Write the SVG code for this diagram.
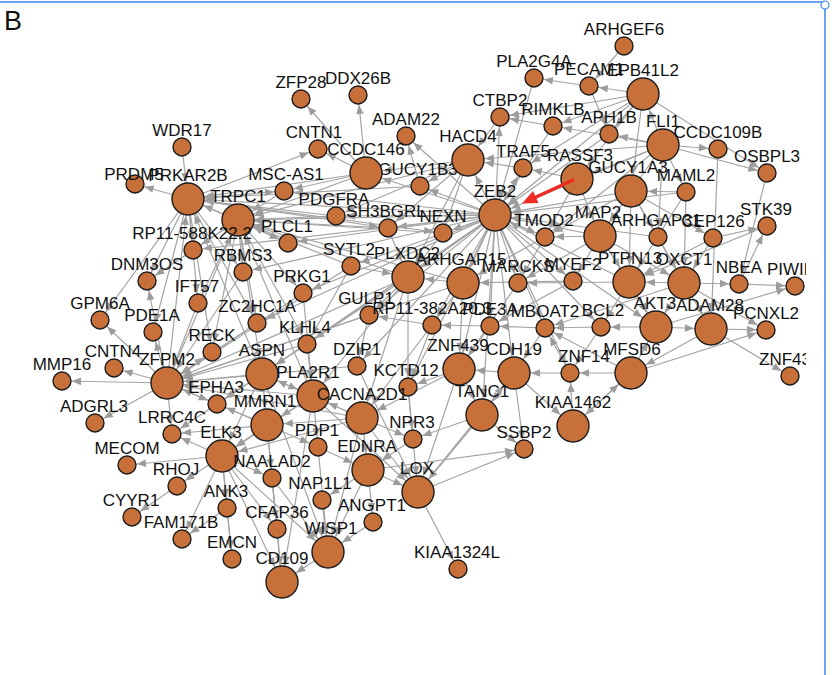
<svg xmlns="http://www.w3.org/2000/svg" width="837" height="675" viewBox="0 0 837 675">
<style>
.e line{stroke:#a4a4a4;stroke-width:1.2;fill:none}
.e .s{marker-end:url(#ms)}
.e .l{marker-end:url(#ml)}
.n circle{fill:#c8703a;stroke:#1c1c1c;stroke-width:1.4}
.n text{font-family:"Liberation Sans",Arial,Helvetica,sans-serif;font-size:17px;fill:#111;text-anchor:middle}
</style>
<defs>
<marker id="ms" markerUnits="userSpaceOnUse" markerWidth="40" markerHeight="12" refX="19" refY="6" orient="auto" overflow="visible"><path d="M0,2.2 L9,6 L0,9.8z" fill="#9c9c9c"/></marker>
<marker id="ml" markerUnits="userSpaceOnUse" markerWidth="40" markerHeight="12" refX="26" refY="6" orient="auto" overflow="visible"><path d="M0,2.2 L9,6 L0,9.8z" fill="#9c9c9c"/></marker>
<clipPath id="clip"><rect x="0" y="0" width="806" height="675"/></clipPath>
</defs>
<rect width="837" height="675" fill="#fff"/>
<line x1="0" y1="2" x2="825" y2="2" stroke="#3d85f0" stroke-width="1.5"/>
<line x1="825" y1="2" x2="825" y2="675" stroke="#3d85f0" stroke-width="1.5"/>
<circle cx="825" cy="5" r="4" fill="#fff" stroke="#3d85f0" stroke-width="1.2"/>
<text x="4" y="30" font-family="Liberation Sans,Arial,sans-serif" font-size="27" fill="#111">B</text>
<g clip-path="url(#clip)">
<g id="edges" class="e">
<line x1="624" y1="46" x2="589" y2="86" class="s"/>
<line x1="643" y1="94" x2="589" y2="86" class="s"/>
<line x1="589" y1="86" x2="534" y2="78" class="s"/>
<line x1="589" y1="86" x2="609" y2="134" class="s"/>
<line x1="643" y1="94" x2="553" y2="126" class="s"/>
<line x1="643" y1="94" x2="609" y2="134" class="s"/>
<line x1="643" y1="94" x2="500" y2="117" class="s"/>
<line x1="643" y1="94" x2="523" y2="168" class="s"/>
<line x1="643" y1="94" x2="495" y2="215" class="l"/>
<line x1="643" y1="94" x2="767" y2="173" class="s"/>
<line x1="643" y1="94" x2="631" y2="191" class="l"/>
<line x1="643" y1="94" x2="577" y2="179" class="l"/>
<line x1="663" y1="145" x2="718" y2="149" class="s"/>
<line x1="663" y1="145" x2="767" y2="173" class="s"/>
<line x1="663" y1="145" x2="609" y2="134" class="s"/>
<line x1="663" y1="145" x2="553" y2="126" class="s"/>
<line x1="663" y1="145" x2="495" y2="215" class="l"/>
<line x1="663" y1="145" x2="577" y2="179" class="l"/>
<line x1="663" y1="145" x2="686" y2="192" class="s"/>
<line x1="663" y1="145" x2="658" y2="237" class="s"/>
<line x1="663" y1="145" x2="600" y2="236" class="l"/>
<line x1="663" y1="145" x2="545" y2="237" class="s"/>
<line x1="663" y1="145" x2="643" y2="94" class="l"/>
<line x1="663" y1="145" x2="468" y2="160" class="l"/>
<line x1="534" y1="78" x2="495" y2="215" class="l"/>
<line x1="553" y1="126" x2="500" y2="117" class="s"/>
<line x1="500" y1="117" x2="468" y2="160" class="l"/>
<line x1="523" y1="168" x2="468" y2="160" class="l"/>
<line x1="553" y1="126" x2="495" y2="215" class="l"/>
<line x1="609" y1="134" x2="495" y2="215" class="l"/>
<line x1="718" y1="149" x2="711" y2="329" class="l"/>
<line x1="767" y1="173" x2="739" y2="284" class="s"/>
<line x1="713" y1="238" x2="767" y2="226" class="s"/>
<line x1="739" y1="284" x2="767" y2="226" class="s"/>
<line x1="686" y1="192" x2="495" y2="215" class="l"/>
<line x1="686" y1="192" x2="629" y2="282" class="l"/>
<line x1="686" y1="192" x2="684" y2="283" class="l"/>
<line x1="686" y1="192" x2="631" y2="191" class="l"/>
<line x1="631" y1="191" x2="495" y2="215" class="l"/>
<line x1="631" y1="191" x2="600" y2="236" class="l"/>
<line x1="631" y1="191" x2="545" y2="237" class="s"/>
<line x1="631" y1="191" x2="684" y2="283" class="l"/>
<line x1="631" y1="191" x2="629" y2="282" class="l"/>
<line x1="577" y1="179" x2="545" y2="237" class="s"/>
<line x1="577" y1="179" x2="600" y2="236" class="l"/>
<line x1="577" y1="179" x2="523" y2="168" class="s"/>
<line x1="600" y1="236" x2="495" y2="215" class="l"/>
<line x1="600" y1="236" x2="545" y2="237" class="s"/>
<line x1="600" y1="236" x2="573" y2="281" class="s"/>
<line x1="600" y1="236" x2="629" y2="282" class="l"/>
<line x1="600" y1="236" x2="684" y2="283" class="l"/>
<line x1="600" y1="236" x2="656" y2="327" class="l"/>
<line x1="600" y1="236" x2="518" y2="283" class="s"/>
<line x1="658" y1="237" x2="684" y2="283" class="l"/>
<line x1="658" y1="237" x2="495" y2="215" class="l"/>
<line x1="713" y1="238" x2="684" y2="283" class="l"/>
<line x1="713" y1="238" x2="629" y2="282" class="l"/>
<line x1="684" y1="283" x2="739" y2="284" class="s"/>
<line x1="739" y1="284" x2="795" y2="286" class="s"/>
<line x1="656" y1="327" x2="795" y2="286" class="s"/>
<line x1="684" y1="283" x2="629" y2="282" class="l"/>
<line x1="629" y1="282" x2="495" y2="215" class="l"/>
<line x1="629" y1="282" x2="518" y2="283" class="s"/>
<line x1="629" y1="282" x2="601" y2="327" class="s"/>
<line x1="629" y1="282" x2="656" y2="327" class="l"/>
<line x1="684" y1="283" x2="711" y2="329" class="l"/>
<line x1="684" y1="283" x2="656" y2="327" class="l"/>
<line x1="684" y1="283" x2="545" y2="328" class="s"/>
<line x1="767" y1="226" x2="629" y2="282" class="l"/>
<line x1="495" y1="215" x2="468" y2="160" class="l"/>
<line x1="495" y1="215" x2="523" y2="168" class="s"/>
<line x1="495" y1="215" x2="500" y2="117" class="s"/>
<line x1="495" y1="215" x2="366" y2="173" class="l"/>
<line x1="495" y1="215" x2="420" y2="186" class="s"/>
<line x1="495" y1="215" x2="443" y2="233" class="s"/>
<line x1="495" y1="215" x2="388" y2="228" class="s"/>
<line x1="495" y1="215" x2="336" y2="216" class="s"/>
<line x1="495" y1="215" x2="238" y2="220" class="l"/>
<line x1="495" y1="215" x2="188" y2="199" class="l"/>
<line x1="495" y1="215" x2="288" y2="243" class="s"/>
<line x1="495" y1="215" x2="545" y2="237" class="s"/>
<line x1="495" y1="215" x2="408" y2="277" class="l"/>
<line x1="495" y1="215" x2="463" y2="283" class="l"/>
<line x1="495" y1="215" x2="518" y2="283" class="s"/>
<line x1="495" y1="215" x2="573" y2="281" class="s"/>
<line x1="495" y1="215" x2="351" y2="266" class="s"/>
<line x1="495" y1="215" x2="243" y2="272" class="s"/>
<line x1="495" y1="215" x2="303" y2="293" class="s"/>
<line x1="495" y1="215" x2="369" y2="315" class="s"/>
<line x1="495" y1="215" x2="432" y2="325" class="s"/>
<line x1="495" y1="215" x2="490" y2="326" class="s"/>
<line x1="495" y1="215" x2="545" y2="328" class="s"/>
<line x1="495" y1="215" x2="459" y2="369" class="l"/>
<line x1="495" y1="215" x2="514" y2="373" class="l"/>
<line x1="495" y1="215" x2="482" y2="415" class="l"/>
<line x1="495" y1="215" x2="408" y2="387" class="s"/>
<line x1="495" y1="215" x2="262" y2="374" class="l"/>
<line x1="495" y1="215" x2="307" y2="344" class="s"/>
<line x1="495" y1="215" x2="284" y2="191" class="s"/>
<line x1="495" y1="215" x2="257" y2="323" class="s"/>
<line x1="495" y1="215" x2="601" y2="327" class="s"/>
<line x1="495" y1="215" x2="656" y2="327" class="l"/>
<line x1="495" y1="215" x2="570" y2="373" class="s"/>
<line x1="495" y1="215" x2="357" y2="366" class="s"/>
<line x1="495" y1="215" x2="193" y2="250" class="s"/>
<line x1="495" y1="215" x2="406" y2="136" class="s"/>
<line x1="468" y1="160" x2="366" y2="173" class="l"/>
<line x1="468" y1="160" x2="420" y2="186" class="s"/>
<line x1="468" y1="160" x2="388" y2="228" class="s"/>
<line x1="468" y1="160" x2="336" y2="216" class="s"/>
<line x1="468" y1="160" x2="238" y2="220" class="l"/>
<line x1="468" y1="160" x2="443" y2="233" class="s"/>
<line x1="468" y1="160" x2="408" y2="277" class="l"/>
<line x1="366" y1="173" x2="358" y2="95" class="s"/>
<line x1="366" y1="173" x2="301" y2="99" class="s"/>
<line x1="366" y1="173" x2="318" y2="149" class="s"/>
<line x1="420" y1="186" x2="406" y2="136" class="s"/>
<line x1="366" y1="173" x2="188" y2="199" class="l"/>
<line x1="366" y1="173" x2="238" y2="220" class="l"/>
<line x1="366" y1="173" x2="284" y2="191" class="s"/>
<line x1="188" y1="199" x2="318" y2="149" class="s"/>
<line x1="182" y1="147" x2="188" y2="199" class="l"/>
<line x1="188" y1="199" x2="135" y2="184" class="s"/>
<line x1="238" y1="220" x2="188" y2="199" class="l"/>
<line x1="336" y1="216" x2="188" y2="199" class="l"/>
<line x1="420" y1="186" x2="188" y2="199" class="l"/>
<line x1="443" y1="233" x2="238" y2="220" class="l"/>
<line x1="388" y1="228" x2="238" y2="220" class="l"/>
<line x1="336" y1="216" x2="238" y2="220" class="l"/>
<line x1="408" y1="277" x2="238" y2="220" class="l"/>
<line x1="463" y1="283" x2="238" y2="220" class="l"/>
<line x1="288" y1="243" x2="238" y2="220" class="l"/>
<line x1="351" y1="266" x2="238" y2="220" class="l"/>
<line x1="284" y1="191" x2="238" y2="220" class="l"/>
<line x1="238" y1="220" x2="193" y2="250" class="s"/>
<line x1="238" y1="220" x2="243" y2="272" class="s"/>
<line x1="238" y1="220" x2="147" y2="281" class="s"/>
<line x1="238" y1="220" x2="198" y2="303" class="s"/>
<line x1="238" y1="220" x2="257" y2="323" class="s"/>
<line x1="238" y1="220" x2="303" y2="293" class="s"/>
<line x1="188" y1="199" x2="193" y2="250" class="s"/>
<line x1="188" y1="199" x2="147" y2="281" class="s"/>
<line x1="188" y1="199" x2="100" y2="320" class="s"/>
<line x1="188" y1="199" x2="153" y2="332" class="s"/>
<line x1="188" y1="199" x2="198" y2="303" class="s"/>
<line x1="188" y1="199" x2="243" y2="272" class="s"/>
<line x1="188" y1="199" x2="212" y2="352" class="s"/>
<line x1="167" y1="383" x2="188" y2="199" class="l"/>
<line x1="188" y1="199" x2="257" y2="323" class="s"/>
<line x1="238" y1="220" x2="212" y2="352" class="s"/>
<line x1="238" y1="220" x2="307" y2="344" class="s"/>
<line x1="238" y1="220" x2="262" y2="374" class="l"/>
<line x1="167" y1="383" x2="62" y2="381" class="s"/>
<line x1="167" y1="383" x2="114" y2="368" class="s"/>
<line x1="167" y1="383" x2="95" y2="423" class="s"/>
<line x1="167" y1="383" x2="100" y2="320" class="s"/>
<line x1="167" y1="383" x2="153" y2="332" class="s"/>
<line x1="167" y1="383" x2="212" y2="352" class="s"/>
<line x1="167" y1="383" x2="172" y2="434" class="s"/>
<line x1="167" y1="383" x2="217" y2="404" class="s"/>
<line x1="167" y1="383" x2="147" y2="281" class="s"/>
<line x1="262" y1="374" x2="167" y2="383" class="l"/>
<line x1="313" y1="396" x2="167" y2="383" class="l"/>
<line x1="267" y1="425" x2="167" y2="383" class="l"/>
<line x1="307" y1="344" x2="167" y2="383" class="l"/>
<line x1="257" y1="323" x2="167" y2="383" class="l"/>
<line x1="357" y1="366" x2="167" y2="383" class="l"/>
<line x1="408" y1="277" x2="167" y2="383" class="l"/>
<line x1="463" y1="283" x2="167" y2="383" class="l"/>
<line x1="351" y1="266" x2="167" y2="383" class="l"/>
<line x1="303" y1="293" x2="167" y2="383" class="l"/>
<line x1="369" y1="315" x2="167" y2="383" class="l"/>
<line x1="167" y1="383" x2="238" y2="220" class="l"/>
<line x1="262" y1="374" x2="313" y2="396" class="l"/>
<line x1="262" y1="374" x2="267" y2="425" class="l"/>
<line x1="262" y1="374" x2="222" y2="456" class="l"/>
<line x1="262" y1="374" x2="217" y2="404" class="s"/>
<line x1="262" y1="374" x2="172" y2="434" class="s"/>
<line x1="262" y1="374" x2="188" y2="199" class="l"/>
<line x1="313" y1="396" x2="267" y2="425" class="l"/>
<line x1="313" y1="396" x2="238" y2="220" class="l"/>
<line x1="313" y1="396" x2="222" y2="456" class="l"/>
<line x1="267" y1="425" x2="222" y2="456" class="l"/>
<line x1="267" y1="425" x2="172" y2="434" class="s"/>
<line x1="267" y1="425" x2="282" y2="582" class="l"/>
<line x1="267" y1="425" x2="272" y2="478" class="s"/>
<line x1="267" y1="425" x2="217" y2="404" class="s"/>
<line x1="362" y1="418" x2="267" y2="425" class="l"/>
<line x1="362" y1="418" x2="262" y2="374" class="l"/>
<line x1="362" y1="418" x2="313" y2="396" class="l"/>
<line x1="362" y1="418" x2="222" y2="456" class="l"/>
<line x1="362" y1="418" x2="167" y2="383" class="l"/>
<line x1="222" y1="456" x2="127" y2="465" class="s"/>
<line x1="222" y1="456" x2="177" y2="486" class="s"/>
<line x1="222" y1="456" x2="172" y2="434" class="s"/>
<line x1="222" y1="456" x2="227" y2="508" class="s"/>
<line x1="222" y1="456" x2="182" y2="539" class="s"/>
<line x1="222" y1="456" x2="232" y2="559" class="s"/>
<line x1="222" y1="456" x2="282" y2="582" class="l"/>
<line x1="222" y1="456" x2="328" y2="552" class="l"/>
<line x1="222" y1="456" x2="272" y2="478" class="s"/>
<line x1="222" y1="456" x2="277" y2="529" class="s"/>
<line x1="177" y1="486" x2="132" y2="517" class="s"/>
<line x1="227" y1="508" x2="182" y2="539" class="s"/>
<line x1="227" y1="508" x2="232" y2="559" class="s"/>
<line x1="272" y1="478" x2="277" y2="529" class="s"/>
<line x1="272" y1="478" x2="282" y2="582" class="l"/>
<line x1="328" y1="552" x2="282" y2="582" class="l"/>
<line x1="373" y1="522" x2="328" y2="552" class="l"/>
<line x1="368" y1="470" x2="328" y2="552" class="l"/>
<line x1="322" y1="500" x2="328" y2="552" class="l"/>
<line x1="318" y1="447" x2="328" y2="552" class="l"/>
<line x1="362" y1="418" x2="328" y2="552" class="l"/>
<line x1="362" y1="418" x2="418" y2="492" class="l"/>
<line x1="368" y1="470" x2="418" y2="492" class="l"/>
<line x1="418" y1="492" x2="458" y2="569" class="s"/>
<line x1="368" y1="470" x2="524" y2="449" class="s"/>
<line x1="418" y1="492" x2="524" y2="449" class="s"/>
<line x1="418" y1="492" x2="514" y2="373" class="l"/>
<line x1="313" y1="396" x2="418" y2="492" class="l"/>
<line x1="408" y1="387" x2="418" y2="492" class="l"/>
<line x1="357" y1="366" x2="418" y2="492" class="l"/>
<line x1="413" y1="439" x2="368" y2="470" class="l"/>
<line x1="318" y1="447" x2="368" y2="470" class="l"/>
<line x1="362" y1="418" x2="368" y2="470" class="l"/>
<line x1="368" y1="470" x2="373" y2="522" class="s"/>
<line x1="368" y1="470" x2="322" y2="500" class="s"/>
<line x1="313" y1="396" x2="318" y2="447" class="s"/>
<line x1="267" y1="425" x2="318" y2="447" class="s"/>
<line x1="362" y1="418" x2="413" y2="439" class="s"/>
<line x1="408" y1="387" x2="413" y2="439" class="s"/>
<line x1="459" y1="369" x2="408" y2="387" class="s"/>
<line x1="459" y1="369" x2="362" y2="418" class="l"/>
<line x1="459" y1="369" x2="482" y2="415" class="l"/>
<line x1="514" y1="373" x2="482" y2="415" class="l"/>
<line x1="514" y1="373" x2="573" y2="426" class="l"/>
<line x1="514" y1="373" x2="524" y2="449" class="s"/>
<line x1="482" y1="415" x2="524" y2="449" class="s"/>
<line x1="570" y1="373" x2="514" y2="373" class="l"/>
<line x1="631" y1="373" x2="570" y2="373" class="s"/>
<line x1="631" y1="373" x2="573" y2="426" class="l"/>
<line x1="573" y1="426" x2="631" y2="373" class="l"/>
<line x1="631" y1="373" x2="766" y2="330" class="s"/>
<line x1="631" y1="373" x2="656" y2="327" class="l"/>
<line x1="631" y1="373" x2="545" y2="328" class="s"/>
<line x1="656" y1="327" x2="711" y2="329" class="l"/>
<line x1="711" y1="329" x2="766" y2="330" class="s"/>
<line x1="711" y1="329" x2="790" y2="376" class="s"/>
<line x1="684" y1="283" x2="766" y2="330" class="s"/>
<line x1="656" y1="327" x2="601" y2="327" class="s"/>
<line x1="601" y1="327" x2="545" y2="328" class="s"/>
<line x1="545" y1="328" x2="490" y2="326" class="s"/>
<line x1="490" y1="326" x2="432" y2="325" class="s"/>
<line x1="432" y1="325" x2="369" y2="315" class="s"/>
<line x1="514" y1="373" x2="459" y2="369" class="l"/>
<line x1="545" y1="328" x2="514" y2="373" class="l"/>
<line x1="490" y1="326" x2="459" y2="369" class="l"/>
<line x1="570" y1="373" x2="545" y2="328" class="s"/>
<line x1="601" y1="327" x2="570" y2="373" class="s"/>
<line x1="711" y1="329" x2="631" y2="373" class="l"/>
<line x1="573" y1="426" x2="570" y2="373" class="s"/>
<line x1="463" y1="283" x2="408" y2="277" class="l"/>
<line x1="463" y1="283" x2="432" y2="325" class="s"/>
<line x1="463" y1="283" x2="459" y2="369" class="l"/>
<line x1="408" y1="277" x2="369" y2="315" class="s"/>
<line x1="408" y1="277" x2="408" y2="387" class="s"/>
<line x1="408" y1="277" x2="262" y2="374" class="l"/>
<line x1="408" y1="277" x2="362" y2="418" class="l"/>
<line x1="408" y1="277" x2="313" y2="396" class="l"/>
<line x1="351" y1="266" x2="408" y2="277" class="l"/>
<line x1="443" y1="233" x2="408" y2="277" class="l"/>
<line x1="388" y1="228" x2="408" y2="277" class="l"/>
<line x1="303" y1="293" x2="313" y2="396" class="l"/>
<line x1="307" y1="344" x2="313" y2="396" class="l"/>
<line x1="369" y1="315" x2="357" y2="366" class="s"/>
<line x1="351" y1="266" x2="307" y2="344" class="s"/>
<line x1="432" y1="325" x2="408" y2="387" class="s"/>
<line x1="432" y1="325" x2="362" y2="418" class="l"/>
<line x1="459" y1="369" x2="418" y2="492" class="l"/>
<line x1="482" y1="415" x2="413" y2="439" class="s"/>
<line x1="482" y1="415" x2="418" y2="492" class="l"/>
<line x1="518" y1="283" x2="459" y2="369" class="l"/>
<line x1="573" y1="281" x2="490" y2="326" class="s"/>
<line x1="573" y1="281" x2="463" y2="283" class="l"/>
<line x1="545" y1="237" x2="463" y2="283" class="l"/>
<line x1="545" y1="237" x2="518" y2="283" class="s"/>
<line x1="262" y1="374" x2="328" y2="552" class="l"/>
<line x1="313" y1="396" x2="282" y2="582" class="l"/>
<line x1="272" y1="478" x2="328" y2="552" class="l"/>
<line x1="198" y1="303" x2="167" y2="383" class="l"/>
<line x1="243" y1="272" x2="167" y2="383" class="l"/>
<line x1="188" y1="199" x2="284" y2="191" class="s"/>
<line x1="188" y1="199" x2="288" y2="243" class="s"/>
<line x1="188" y1="199" x2="388" y2="228" class="s"/>
<line x1="188" y1="199" x2="443" y2="233" class="s"/>
<line x1="631" y1="191" x2="713" y2="238" class="s"/>
<line x1="631" y1="191" x2="658" y2="237" class="s"/>
</g>
<g id="nodes" class="n">
<g id="n-ARHGEF6"><circle cx="624" cy="46" r="9"/><text x="624" y="35">ARHGEF6</text></g>
<g id="n-PLA2G4A"><circle cx="534" cy="78" r="9"/><text x="534" y="67">PLA2G4A</text></g>
<g id="n-EPB41L2"><circle cx="643" cy="94" r="16"/><text x="643" y="76">EPB41L2</text></g>
<g id="n-PECAM1"><circle cx="589" cy="86" r="9"/><text x="589" y="75">PECAM1</text></g>
<g id="n-ZFP28"><circle cx="301" cy="99" r="9"/><text x="301" y="88">ZFP28</text></g>
<g id="n-DDX26B"><circle cx="358" cy="95" r="9"/><text x="358" y="84">DDX26B</text></g>
<g id="n-CTBP2"><circle cx="500" cy="117" r="9"/><text x="500" y="106">CTBP2</text></g>
<g id="n-RIMKLB"><circle cx="553" cy="126" r="9"/><text x="553" y="115">RIMKLB</text></g>
<g id="n-APH1B"><circle cx="609" cy="134" r="9"/><text x="609" y="123">APH1B</text></g>
<g id="n-ADAM22"><circle cx="406" cy="136" r="9"/><text x="406" y="125">ADAM22</text></g>
<g id="n-FLI1"><circle cx="663" cy="145" r="16"/><text x="663" y="127">FLI1</text></g>
<g id="n-CCDC109B"><circle cx="718" cy="149" r="9"/><text x="718" y="138">CCDC109B</text></g>
<g id="n-WDR17"><circle cx="182" cy="147" r="9"/><text x="182" y="136">WDR17</text></g>
<g id="n-CNTN1"><circle cx="318" cy="149" r="9"/><text x="314" y="138">CNTN1</text></g>
<g id="n-GUCY1B3"><circle cx="420" cy="186" r="9"/><text x="418" y="175">GUCY1B3</text></g>
<g id="n-HACD4"><circle cx="468" cy="160" r="16"/><text x="468" y="142">HACD4</text></g>
<g id="n-CCDC146"><circle cx="366" cy="173" r="16"/><text x="366" y="155">CCDC146</text></g>
<g id="n-TRAF5"><circle cx="523" cy="168" r="9"/><text x="523" y="157">TRAF5</text></g>
<g id="n-RASSF3"><circle cx="577" cy="179" r="16"/><text x="580" y="161">RASSF3</text></g>
<g id="n-GUCY1A3"><circle cx="631" cy="191" r="16"/><text x="628" y="173">GUCY1A3</text></g>
<g id="n-OSBPL3"><circle cx="767" cy="173" r="9"/><text x="767" y="162">OSBPL3</text></g>
<g id="n-PRDM5"><circle cx="135" cy="184" r="9"/><text x="134" y="180">PRDM5</text></g>
<g id="n-PRKAR2B"><circle cx="188" cy="199" r="16"/><text x="188" y="181">PRKAR2B</text></g>
<g id="n-MSC-AS1"><circle cx="284" cy="191" r="9"/><text x="286" y="180">MSC-AS1</text></g>
<g id="n-TRPC1"><circle cx="238" cy="220" r="16"/><text x="238" y="202">TRPC1</text></g>
<g id="n-PDGFRA"><circle cx="336" cy="216" r="9"/><text x="334" y="205">PDGFRA</text></g>
<g id="n-MAML2"><circle cx="686" cy="192" r="9"/><text x="686" y="181">MAML2</text></g>
<g id="n-ZEB2"><circle cx="495" cy="215" r="16"/><text x="495" y="197">ZEB2</text></g>
<g id="n-MAP2"><circle cx="600" cy="236" r="16"/><text x="598" y="218">MAP2</text></g>
<g id="n-ARHGAP31"><circle cx="658" cy="237" r="9"/><text x="656" y="226">ARHGAP31</text></g>
<g id="n-CEP126"><circle cx="713" cy="238" r="9"/><text x="713" y="227">CEP126</text></g>
<g id="n-STK39"><circle cx="767" cy="226" r="9"/><text x="766" y="215">STK39</text></g>
<g id="n-SH3BGRL"><circle cx="388" cy="228" r="9"/><text x="386" y="217">SH3BGRL</text></g>
<g id="n-NEXN"><circle cx="443" cy="233" r="9"/><text x="443" y="222">NEXN</text></g>
<g id="n-TMOD2"><circle cx="545" cy="237" r="9"/><text x="544" y="226">TMOD2</text></g>
<g id="n-RP11-588K22.2"><circle cx="193" cy="250" r="9"/><text x="192" y="239">RP11-588K22.2</text></g>
<g id="n-PLCL1"><circle cx="288" cy="243" r="9"/><text x="287" y="232">PLCL1</text></g>
<g id="n-RBMS3"><circle cx="243" cy="272" r="9"/><text x="243" y="261">RBMS3</text></g>
<g id="n-DNM3OS"><circle cx="147" cy="281" r="9"/><text x="147" y="270">DNM3OS</text></g>
<g id="n-SYTL2"><circle cx="351" cy="266" r="9"/><text x="349" y="255">SYTL2</text></g>
<g id="n-PLXDC2"><circle cx="408" cy="277" r="16"/><text x="407" y="259">PLXDC2</text></g>
<g id="n-ARHGAP15"><circle cx="463" cy="283" r="16"/><text x="461" y="265">ARHGAP15</text></g>
<g id="n-MARCKS"><circle cx="518" cy="283" r="9"/><text x="518" y="272">MARCKS</text></g>
<g id="n-MYEF2"><circle cx="573" cy="281" r="9"/><text x="573" y="270">MYEF2</text></g>
<g id="n-PTPN13"><circle cx="629" cy="282" r="16"/><text x="630" y="264">PTPN13</text></g>
<g id="n-OXCT1"><circle cx="684" cy="283" r="16"/><text x="684" y="265">OXCT1</text></g>
<g id="n-NBEA"><circle cx="739" cy="284" r="9"/><text x="739" y="273">NBEA</text></g>
<g id="n-PIWIL"><circle cx="795" cy="286" r="9"/><text x="767" y="275" style="text-anchor:start">PIWIL</text></g>
<g id="n-PRKG1"><circle cx="303" cy="293" r="9"/><text x="302" y="282">PRKG1</text></g>
<g id="n-IFT57"><circle cx="198" cy="303" r="9"/><text x="197" y="292">IFT57</text></g>
<g id="n-GPM6A"><circle cx="100" cy="320" r="9"/><text x="100" y="309">GPM6A</text></g>
<g id="n-ZC2HC1A"><circle cx="257" cy="323" r="9"/><text x="257" y="312">ZC2HC1A</text></g>
<g id="n-GULP1"><circle cx="369" cy="315" r="9"/><text x="366" y="304">GULP1</text></g>
<g id="n-RP11-382A20.3"><circle cx="432" cy="325" r="9"/><text x="432" y="314">RP11-382A20.3</text></g>
<g id="n-PDE3A"><circle cx="490" cy="326" r="9"/><text x="490" y="315">PDE3A</text></g>
<g id="n-MBOAT2"><circle cx="545" cy="328" r="9"/><text x="545" y="317">MBOAT2</text></g>
<g id="n-BCL2"><circle cx="601" cy="327" r="9"/><text x="603" y="316">BCL2</text></g>
<g id="n-AKT3"><circle cx="656" cy="327" r="16"/><text x="655" y="309">AKT3</text></g>
<g id="n-ADAM28"><circle cx="711" cy="329" r="16"/><text x="710" y="311">ADAM28</text></g>
<g id="n-PCNXL2"><circle cx="766" cy="330" r="9"/><text x="766" y="319">PCNXL2</text></g>
<g id="n-KLHL4"><circle cx="307" cy="344" r="9"/><text x="305" y="333">KLHL4</text></g>
<g id="n-PDE1A"><circle cx="153" cy="332" r="9"/><text x="152" y="321">PDE1A</text></g>
<g id="n-RECK"><circle cx="212" cy="352" r="9"/><text x="212" y="341">RECK</text></g>
<g id="n-CNTN4"><circle cx="114" cy="368" r="9"/><text x="113" y="357">CNTN4</text></g>
<g id="n-MMP16"><circle cx="62" cy="381" r="9"/><text x="62" y="370">MMP16</text></g>
<g id="n-ZFPM2"><circle cx="167" cy="383" r="16"/><text x="167" y="365">ZFPM2</text></g>
<g id="n-ASPN"><circle cx="262" cy="374" r="16"/><text x="262" y="356">ASPN</text></g>
<g id="n-DZIP1"><circle cx="357" cy="366" r="9"/><text x="357" y="355">DZIP1</text></g>
<g id="n-ZNF439"><circle cx="459" cy="369" r="16"/><text x="458" y="351">ZNF439</text></g>
<g id="n-CDH19"><circle cx="514" cy="373" r="16"/><text x="514" y="355">CDH19</text></g>
<g id="n-ZNF14"><circle cx="570" cy="373" r="9"/><text x="584" y="362">ZNF14</text></g>
<g id="n-MFSD6"><circle cx="631" cy="373" r="16"/><text x="632" y="355">MFSD6</text></g>
<g id="n-ZNF43"><circle cx="790" cy="376" r="9"/><text x="759" y="365" style="text-anchor:start">ZNF43</text></g>
<g id="n-EPHA3"><circle cx="217" cy="404" r="9"/><text x="216" y="393">EPHA3</text></g>
<g id="n-PLA2R1"><circle cx="313" cy="396" r="16"/><text x="308" y="378">PLA2R1</text></g>
<g id="n-KCTD12"><circle cx="408" cy="387" r="9"/><text x="406" y="376">KCTD12</text></g>
<g id="n-ADGRL3"><circle cx="95" cy="423" r="9"/><text x="94" y="412">ADGRL3</text></g>
<g id="n-LRRC4C"><circle cx="172" cy="434" r="9"/><text x="172" y="423">LRRC4C</text></g>
<g id="n-MMRN1"><circle cx="267" cy="425" r="16"/><text x="265" y="407">MMRN1</text></g>
<g id="n-CACNA2D1"><circle cx="362" cy="418" r="16"/><text x="362" y="400">CACNA2D1</text></g>
<g id="n-TANC1"><circle cx="482" cy="415" r="16"/><text x="482" y="397">TANC1</text></g>
<g id="n-KIAA1462"><circle cx="573" cy="426" r="16"/><text x="573" y="408">KIAA1462</text></g>
<g id="n-NPR3"><circle cx="413" cy="439" r="9"/><text x="412" y="428">NPR3</text></g>
<g id="n-PDP1"><circle cx="318" cy="447" r="9"/><text x="317" y="436">PDP1</text></g>
<g id="n-SSBP2"><circle cx="524" cy="449" r="9"/><text x="524" y="438">SSBP2</text></g>
<g id="n-ELK3"><circle cx="222" cy="456" r="16"/><text x="221" y="438">ELK3</text></g>
<g id="n-MECOM"><circle cx="127" cy="465" r="9"/><text x="127" y="454">MECOM</text></g>
<g id="n-EDNRA"><circle cx="368" cy="470" r="16"/><text x="367" y="452">EDNRA</text></g>
<g id="n-NAALAD2"><circle cx="272" cy="478" r="9"/><text x="272" y="467">NAALAD2</text></g>
<g id="n-RHOJ"><circle cx="177" cy="486" r="9"/><text x="176" y="475">RHOJ</text></g>
<g id="n-LOX"><circle cx="418" cy="492" r="16"/><text x="417" y="474">LOX</text></g>
<g id="n-NAP1L1"><circle cx="322" cy="500" r="9"/><text x="320" y="489">NAP1L1</text></g>
<g id="n-ANK3"><circle cx="227" cy="508" r="9"/><text x="226" y="497">ANK3</text></g>
<g id="n-CYYR1"><circle cx="132" cy="517" r="9"/><text x="131" y="506">CYYR1</text></g>
<g id="n-ANGPT1"><circle cx="373" cy="522" r="9"/><text x="372" y="511">ANGPT1</text></g>
<g id="n-CFAP36"><circle cx="277" cy="529" r="9"/><text x="277" y="518">CFAP36</text></g>
<g id="n-FAM171B"><circle cx="182" cy="539" r="9"/><text x="181" y="528">FAM171B</text></g>
<g id="n-WISP1"><circle cx="328" cy="552" r="16"/><text x="331" y="534">WISP1</text></g>
<g id="n-EMCN"><circle cx="232" cy="559" r="9"/><text x="232" y="548">EMCN</text></g>
<g id="n-KIAA1324L"><circle cx="458" cy="569" r="9"/><text x="457" y="558">KIAA1324L</text></g>
<g id="n-CD109"><circle cx="282" cy="582" r="16"/><text x="282" y="564">CD109</text></g>
</g>
</g>
<g id="highlight">
<line x1="573" y1="180" x2="535" y2="197.5" stroke="#ee2a22" stroke-width="3.2" stroke-linecap="round"/>
<polygon points="522,203.5 538.5,203 533,191" fill="#ee2a22"/>
</g>
</svg>
